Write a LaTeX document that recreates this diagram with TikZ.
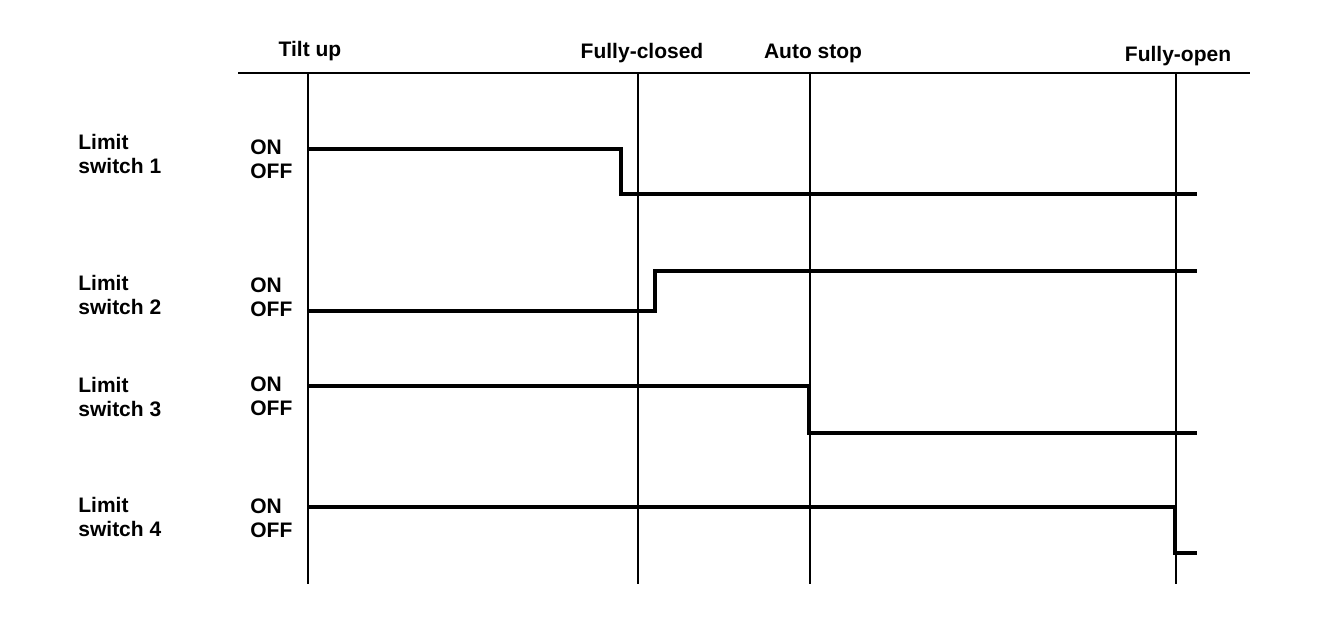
\documentclass[tikz,border=0pt]{standalone}
\usepackage{fontspec}
\setmainfont{Liberation Sans}
\usetikzlibrary{positioning}

\begin{document}
\begin{tikzpicture}[x=0.5pt, y=-0.5pt,
  lbl/.style={font=\bfseries\fontsize{10.5}{12}\selectfont, inner sep=0pt, align=left},
  wave/.style={line width=2pt},
  event/.style={line width=1pt}]
  \useasboundingbox (0,0) rectangle (1344,622);
  % time axis and events
  \draw[line width=1.2pt] (238,73) -- (1250,73);
  \foreach \x/\name in {308/tiltup, 638/closed, 810/autostop, 1176/open}
    \draw[event] (\x,73) coordinate (\name) -- (\x,584);
  \node[lbl] (ttilt) at (310,51) {Tilt up};
  \node[lbl] (tclosed) at (642,53) {Fully-closed};
  \node[lbl] (tauto) at (813,53) {Auto stop};
  \node[lbl] (topen) at (1178,56) {Fully-open};
  % switch labels
  \foreach \i/\y/\s in {1/154/159, 2/295/297, 3/397/396, 4/517/518} {
    \node[lbl, anchor=west] (ls\i) at (78,\y) {Limit\\switch \i};
    \node[lbl, anchor=west] (st\i) at (250,\s) {ON\\OFF};
  }
  % switch states
  \draw[wave] (308,149) -| (621,194) -- (1197,194);
  \draw[wave] (308,311) -| (655,271) -- (1197,271);
  \draw[wave] (308,386) -| (809,433) -- (1197,433);
  \draw[wave] (308,507) -| (1175,553) -- (1197,553);
\end{tikzpicture}
\end{document}
